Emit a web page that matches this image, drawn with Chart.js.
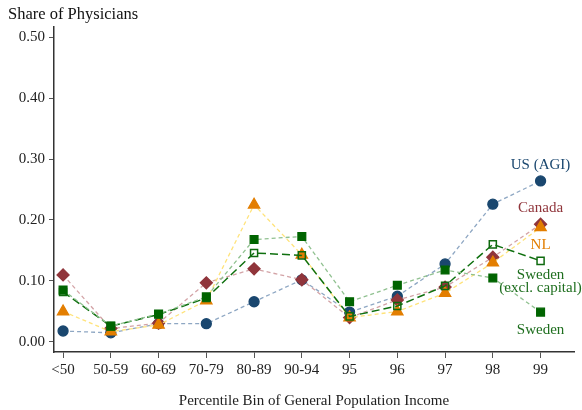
<!DOCTYPE html>
<html>
<head>
<meta charset="utf-8">
<script src="https://cdn.jsdelivr.net/npm/chart.js@4/dist/chart.umd.min.js"></script>
<style>
  html, body { margin: 0; padding: 0; background: #fff; }
  #wrap { width: 582px; height: 410px; position: relative; }
</style>
</head>
<body>
<div id="wrap"><canvas id="chart" width="582" height="410"></canvas></div>
<script>
const FONT = "'Liberation Serif', 'DejaVu Serif', serif";

const categories = ["<50", "50-59", "60-69", "70-79", "80-89", "90-94", "95", "96", "97", "98", "99"];
const yTicks = [0, 0.1, 0.2, 0.3, 0.4, 0.5];

const usAgi   = [0.018, 0.015, 0.030, 0.030, 0.066, 0.102, 0.049, 0.075, 0.128, 0.226, 0.264];
const canada  = [0.110, 0.022, 0.031, 0.097, 0.120, 0.102, 0.040, 0.069, 0.090, 0.139, 0.193];
const nl      = [0.050, 0.017, 0.028, 0.068, 0.225, 0.143, 0.040, 0.050, 0.080, 0.130, 0.188];
const sweden  = [0.085, 0.026, 0.046, 0.074, 0.168, 0.173, 0.066, 0.093, 0.118, 0.105, 0.049];
const swedenExcl = [0.082, 0.026, 0.045, 0.072, 0.146, 0.142, 0.042, 0.059, 0.092, 0.160, 0.133];

// label text shown next to the last point, with a pixel offset from it
const seriesLabels = [
  { text: ["US (AGI)"], color: "#1a476f", dx: 0, dy: -16 },
  { text: ["Canada"], color: "#90353b", dx: 0, dy: -16 },
  { text: ["NL"], color: "#e37e00", dx: 0, dy: 18 },
  { text: ["Sweden", "(excl. capital)"], color: "#1e6e1e", dx: 0, dy: 14 },
  { text: ["Sweden"], color: "#1e6e1e", dx: 0, dy: 18 }
];

function toXY(arr) {
  return arr.map((v, i) => ({ x: i, y: v }));
}

const datasets = [
  {
    label: "US (AGI)", data: toXY(usAgi),
    borderColor: "#8ea7c3", borderDash: [4, 3], borderWidth: 1.3,
    pointStyle: "circle", pointRadius: 5, pointBackgroundColor: "#1a476f", pointBorderColor: "#1a476f",
    order: 5
  },
  {
    label: "Canada", data: toXY(canada),
    borderColor: "#d3a3a6", borderDash: [4, 3], borderWidth: 1.3,
    pointStyle: "rectRot", pointRadius: 6, pointBackgroundColor: "#90353b", pointBorderColor: "#90353b",
    order: 4
  },
  {
    label: "NL", data: toXY(nl),
    borderColor: "#ffe37a", borderDash: [4, 3], borderWidth: 1.3,
    pointStyle: "triangle", pointRadius: 6.5, pointBackgroundColor: "#e37e00", pointBorderColor: "#e37e00",
    order: 3
  },
  {
    label: "Sweden (excl. capital)", data: toXY(swedenExcl),
    borderColor: "#0f700f", borderDash: [8, 4], borderWidth: 1.5,
    pointStyle: "rect", pointRadius: 5, pointBackgroundColor: "rgba(255,255,255,0)", pointBorderColor: "#0f6a0f",
    pointBorderWidth: 1.5,
    order: 2
  },
  {
    label: "Sweden", data: toXY(sweden),
    borderColor: "#90c190", borderDash: [4, 3], borderWidth: 1.3,
    pointStyle: "rect", pointRadius: 5.5, pointBackgroundColor: "#006400", pointBorderColor: "#006400",
    order: 1
  }
];

const labelPlugin = {
  id: "labels",
  afterDatasetsDraw(chart) {
    const ctx = chart.ctx;
    const xs = chart.scales.x, ys = chart.scales.y;
    const seriesOrder = [usAgi, canada, nl, swedenExcl, sweden];
    ctx.save();
    ctx.font = "15px " + FONT;
    ctx.textAlign = "center";
    ctx.textBaseline = "middle";
    seriesLabels.forEach((lab, k) => {
      const arr = seriesOrder[k];
      const last = arr.length - 1;
      const px = xs.getPixelForValue(last) + lab.dx;
      const py = ys.getPixelForValue(arr[last]) + lab.dy;
      ctx.fillStyle = lab.color;
      lab.text.forEach((t, j) => ctx.fillText(t, px, py + j * 13));
    });
    // axis title above the y axis
    ctx.fillStyle = "#111";
    ctx.textAlign = "left";
    ctx.font = "16.5px " + FONT;
    ctx.fillText("Share of Physicians", 8, 15);
    ctx.restore();
  }
};

new Chart(document.getElementById("chart"), {
  type: "line",
  data: { datasets },
  options: {
    responsive: false,
    animation: false,
    layout: { padding: { left: 0, right: 8, top: 27, bottom: 0 } },
    plugins: { legend: { display: false }, tooltip: { enabled: false } },
    scales: {
      x: {
        type: "linear",
        min: -0.19,
        max: 10.7,
        afterBuildTicks(scale) { scale.ticks = categories.map((c, i) => ({ value: i })); },
        afterFit(scale) { scale.height = 58; },
        ticks: {
          callback: (v) => categories[v],
          color: "#222",
          font: { family: FONT, size: 15 },
          padding: 3,
          autoSkip: false,
          maxRotation: 0
        },
        grid: { drawOnChartArea: false, tickLength: 6, tickColor: "#555", tickWidth: 1 },
        border: { color: "#333", width: 1.5 },
        title: {
          display: true,
          text: "Percentile Bin of General Population Income",
          color: "#222",
          font: { family: FONT, size: 15 },
          padding: { top: 12, bottom: 0 }
        }
      },
      y: {
        type: "linear",
        min: -0.0164,
        max: 0.5164,
        afterBuildTicks(scale) { scale.ticks = yTicks.map(v => ({ value: v })); },
        afterFit(scale) { scale.width = 54; },
        ticks: {
          callback: (v) => v.toFixed(2),
          color: "#222",
          font: { family: FONT, size: 15 },
          padding: 4
        },
        grid: { drawOnChartArea: false, tickLength: 5, tickColor: "#555", tickWidth: 1 },
        border: { color: "#333", width: 1.5 }
      }
    }
  },
  plugins: [labelPlugin]
});
</script>
</body>
</html>
